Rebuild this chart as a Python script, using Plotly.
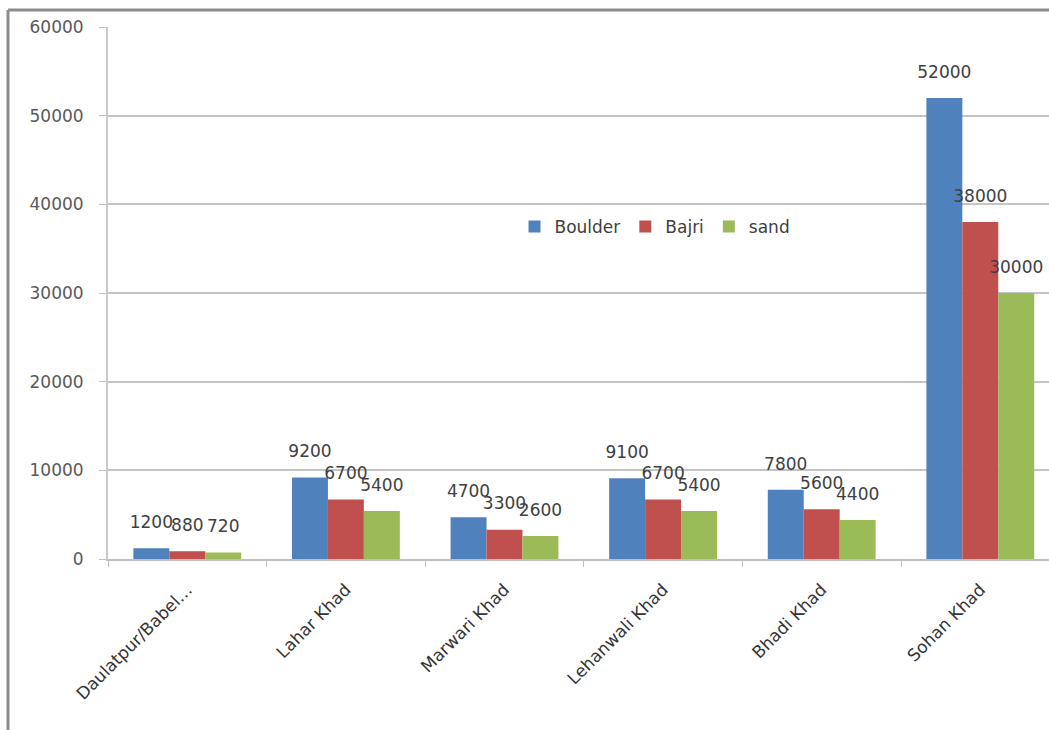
import plotly.graph_objects as go

# Site names (x categories) and quantities per material
sites = ["Daulatpur/Babel…", "Lahar Khad", "Marwari Khad",
         "Lehanwali Khad", "Bhadi Khad", "Sohan Khad"]
boulder = [1200, 9200, 4700, 9100, 7800, 52000]
bajri = [880, 6700, 3300, 6700, 5600, 38000]
sand = [720, 5400, 2600, 5400, 4400, 30000]

series_names = ["Boulder", "Bajri", "sand"]
series_values = [boulder, bajri, sand]
series_colors = ["#4F81BD", "#C0504D", "#9BBB59"]

y_ticks = [0, 10000, 20000, 30000, 40000, 50000, 60000]

FONT = "DejaVu Sans"
BARGAP = 0.32
W, H = 1049, 730
M_L, M_R, M_T, M_B = 108, 0, 27, 171

xs = list(range(len(sites)))
fig = go.Figure()

for name, vals, col in zip(series_names, series_values, series_colors):
    fig.add_trace(go.Bar(
        x=xs, y=vals, name=name, marker_color=col,
        marker_line_width=0, hoverinfo="skip",
    ))

# Value labels above each bar, placed at the grouped-bar offsets
n = len(series_values)
slot = (1 - BARGAP) / n
for k, vals in enumerate(series_values):
    off = (k - (n - 1) / 2) * slot
    fig.add_trace(go.Scatter(
        x=[x + off for x in xs], y=vals, mode="markers+text",
        text=[str(v) for v in vals], textposition="top center",
        textfont=dict(family=FONT, size=17, color="#404040"),
        marker=dict(size=24, opacity=0),
        showlegend=False, hoverinfo="skip", cliponaxis=False,
    ))

plot_w = W - M_L - M_R
plot_h = H - M_T - M_B
px_per_cat = 158.6
x_max = -0.5 + plot_w / px_per_cat

fig.update_layout(
    width=W, height=H,
    margin=dict(l=M_L, r=M_R, t=M_T, b=M_B, pad=0),
    paper_bgcolor="white", plot_bgcolor="white",
    barmode="group", bargap=BARGAP, bargroupgap=0,
    font=dict(family=FONT, size=17, color="#595959"),
    legend=dict(
        orientation="h", x=0.432, y=0.624, xanchor="left", yanchor="middle",
        font=dict(family=FONT, size=17, color="#404040"),
        bgcolor="rgba(0,0,0,0)", itemclick=False,
    ),
    xaxis=dict(
        range=[-0.5, x_max], tickmode="array", tickvals=xs, ticktext=sites,
        tickangle=-45, ticks="", showgrid=False, zeroline=False,
        showline=True, linecolor="#bfbfbf", linewidth=2,
        ticklabelstandoff=12,
        tickfont=dict(family=FONT, size=17, color="#333333"),
        minor=dict(tickmode="linear", tick0=-0.5, dtick=1, ticks="outside",
                   ticklen=6, tickcolor="#bfbfbf", tickwidth=1, showgrid=False),
    ),
    yaxis=dict(
        range=[0, 60000], tickvals=y_ticks, tickformat="d",
        ticks="outside", ticklen=7,
        tickcolor="#bfbfbf", showgrid=True, gridcolor="#c4c4c4", gridwidth=2,
        zeroline=False, showline=True, linecolor="#c8c8c8", linewidth=2,
        ticklabelstandoff=12,
        tickfont=dict(family=FONT, size=17, color="#595959"),
    ),
    showlegend=True,
)

# Outer chart frame (left and top edges)
fx = (8 - M_L) / plot_w
fy = 1 + (M_T - 10) / plot_h
fig.add_shape(type="line", xref="paper", yref="paper",
              x0=fx, x1=fx, y0=fy, y1=-M_B / plot_h - 0.1,
              line=dict(color="#8c8c8c", width=3))
fig.add_shape(type="line", xref="paper", yref="paper",
              x0=fx, x1=1.05, y0=fy, y1=fy,
              line=dict(color="#8c8c8c", width=3))

fig.write_html("out.html")
